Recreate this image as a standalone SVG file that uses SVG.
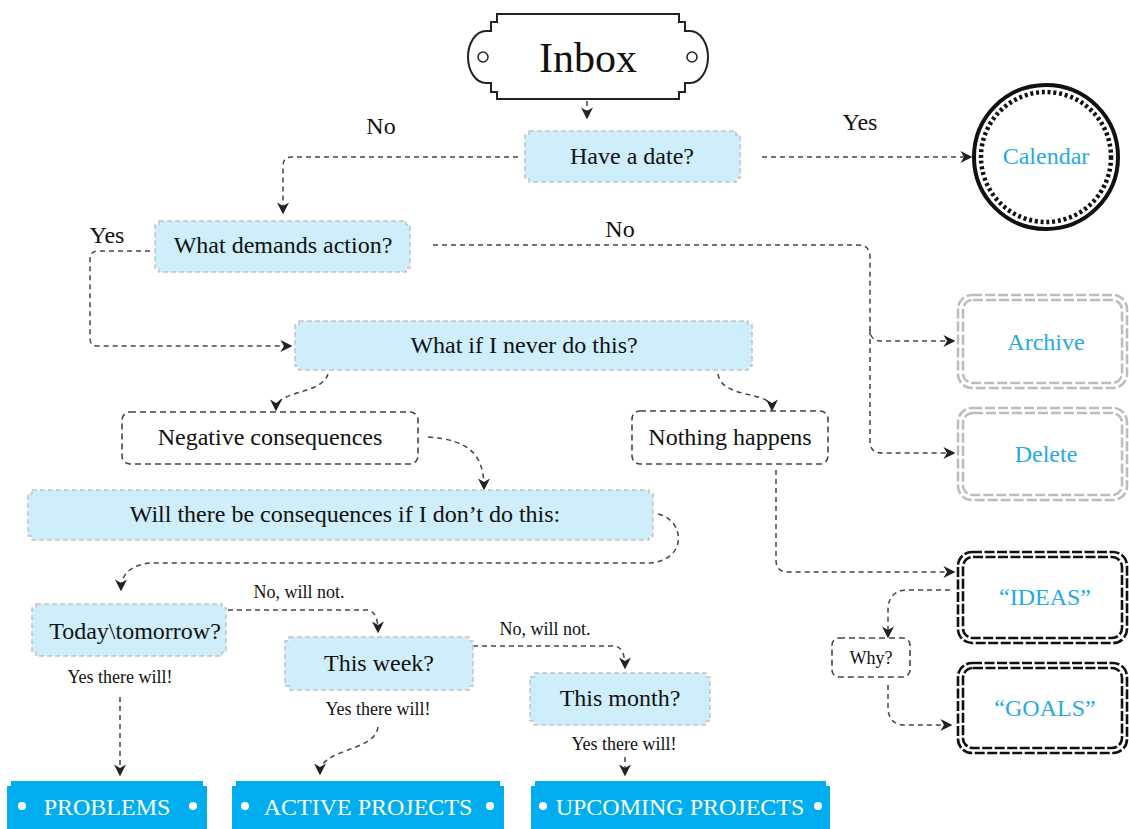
<svg xmlns="http://www.w3.org/2000/svg" width="1129" height="829" viewBox="0 0 1129 829">
<defs>
<marker id="arr" markerWidth="12" markerHeight="12" viewBox="0 0 10 10" refX="8" refY="5" orient="auto" markerUnits="userSpaceOnUse">
<path d="M0,0 L10,5 L0,10 L3,5 Z" fill="#222"/>
</marker>
<style>
text{font-family:"Liberation Serif","Times New Roman",serif;fill:#111;text-anchor:middle}
.q{fill:#cdeefa;stroke:#c4c4c4;stroke-width:1.5;stroke-dasharray:5 3}
.d{fill:#fff;stroke:#444;stroke-width:1.6;stroke-dasharray:6 4}
.c{fill:none;stroke:#444;stroke-width:1.5;stroke-dasharray:5 4;marker-end:url(#arr)}
.t22{font-size:24px}
.t16{font-size:18px}
.blue{fill:#26a9e6;font-size:24px}
.gray{fill:none;stroke:#bcbcbc;stroke-width:2.5;stroke-dasharray:10 3}
.blk{fill:none;stroke:#111;stroke-width:2.6;stroke-dasharray:10 2.5}
.ban{fill:#00aeef}
.bt{fill:#fff;font-size:24px}
.dot{fill:#fff}
</style>
</defs>
<rect width="1129" height="829" fill="#fff"/>

<g id="connectors">
<path class="c" d="M587,101 V117"/>
<path class="c" d="M518,157 H292 Q283,157 283,166 V212"/>
<path class="c" d="M762,157 H970"/>
<path class="c" d="M150,251 H98 Q90,251 90,259 V338 Q90,346 98,346 H290"/>
<path class="c" d="M433,245 H858 Q870,245 870,257 V330 Q870,341 882,341 H953"/>
<path class="c" d="M870,330 V441 Q870,453 882,453 H953"/>
<path class="c" d="M328,374 C322,395 276,390 276,409"/>
<path class="c" d="M718,374 C722,400 772,390 772,409"/>
<path class="c" d="M428,437 C470,440 484,455 484,488"/>
<path class="c" d="M658,514 C685,520 688,560 650,563 H150 C130,565 121,575 121,589"/>
<path class="c" d="M228,610 H368 Q378,612 378,631"/>
<path class="c" d="M473,646 H615 Q625,648 625,667"/>
<path class="c" d="M120,697 V774"/>
<path class="c" d="M378,727 C375,752 320,748 320,773"/>
<path class="c" d="M625,757 V774"/>
<path class="c" d="M776,470 V560 Q776,572 788,572 H953"/>
<path class="c" d="M950,590 H905 Q888,592 888,610 V636"/>
<path class="c" d="M888,685 V710 Q890,725 905,725 H950"/>
</g>

<g id="inbox">
<path d="M497,14 H679 V22 H685 V31 H690 A18 26 0 0 1 690 83 H685 V92 H679 V99 H497 V92 H491 V83 H486 A18 26 0 0 1 486 31 H491 V22 H497 Z" fill="#fff" stroke="#222" stroke-width="2"/>
<circle cx="483" cy="57" r="5" fill="#fff" stroke="#222" stroke-width="1.5"/>
<circle cx="692" cy="57" r="5" fill="#fff" stroke="#222" stroke-width="1.5"/>
<text x="588" y="72" font-size="42">Inbox</text>
</g>

<g id="have-date">
<path class="q" d="M529,131 H736 V135 H740 V178 H736 V182 H529 V178 H525 V135 H529 Z"/>
<text class="t22" x="632" y="164">Have a date?</text>
</g>
<text class="t22" x="381" y="134">No</text>
<text class="t22" x="860" y="130">Yes</text>

<g id="calendar">
<circle cx="1046" cy="157" r="72" fill="#fff" stroke="#111" stroke-width="4"/>
<circle cx="1046" cy="157" r="65" fill="none" stroke="#111" stroke-width="4.5" stroke-dasharray="3 2.8"/>
<text class="blue" x="1046" y="164">Calendar</text>
</g>

<g id="demands">
<path class="q" d="M159,221 H406 V225 H410 V268 H406 V272 H159 V268 H155 V225 H159 Z"/>
<text class="t22" x="283" y="253">What demands action?</text>
</g>
<text class="t22" x="107" y="243">Yes</text>
<text class="t22" x="620" y="237">No</text>

<g id="archive">
<rect class="gray" x="958" y="295" width="169" height="93" rx="14"/>
<rect class="gray" x="963" y="300" width="159" height="83" rx="10"/>
<text class="blue" x="1046" y="350">Archive</text>
</g>
<g id="delete">
<rect class="gray" x="958" y="408" width="169" height="92" rx="14"/>
<rect class="gray" x="963" y="413" width="159" height="82" rx="10"/>
<text class="blue" x="1046" y="462">Delete</text>
</g>

<g id="never">
<path class="q" d="M299,321 H748 V325 H752 V366 H748 V370 H299 V366 H295 V325 H299 Z"/>
<text class="t22" x="524" y="353">What if I never do this?</text>
</g>

<g id="negative">
<rect class="d" x="122" y="412" width="296" height="52" rx="8"/>
<text class="t22" x="270" y="445">Negative consequences</text>
</g>
<g id="nothing">
<rect class="d" x="632" y="411" width="196" height="53" rx="8"/>
<text class="t22" x="730" y="445">Nothing happens</text>
</g>

<g id="will">
<path class="q" d="M32,490 H649 V494 H653 V536 H649 V540 H32 V536 H28 V494 H32 Z"/>
<text class="t22" x="345" y="522">Will there be consequences if I don’t do this:</text>
</g>

<g id="today">
<path class="q" d="M36,604 H222 V608 H226 V652 H222 V656 H36 V652 H32 V608 H36 Z"/>
<text class="t22" x="135" y="639">Today\tomorrow?</text>
</g>
<text class="t16" x="299" y="598">No, will not.</text>
<text class="t16" x="120" y="683">Yes there will!</text>

<g id="week">
<path class="q" d="M289,637 H469 V641 H473 V686 H469 V690 H289 V686 H285 V641 H289 Z"/>
<text class="t22" x="379" y="671">This week?</text>
</g>
<text class="t16" x="545" y="635">No, will not.</text>
<text class="t16" x="378" y="715">Yes there will!</text>

<g id="month">
<path class="q" d="M534,673 H706 V677 H710 V721 H706 V725 H534 V721 H530 V677 H534 Z"/>
<text class="t22" x="620" y="706">This month?</text>
</g>
<text class="t16" x="624" y="750">Yes there will!</text>

<g id="ideas">
<rect class="blk" x="958" y="552" width="169" height="91" rx="14"/>
<rect class="blk" x="963" y="557" width="159" height="81" rx="10"/>
<text class="blue" x="1045" y="605">“IDEAS”</text>
</g>
<g id="why">
<rect class="d" x="832" y="638" width="78" height="39" rx="7"/>
<text class="t16" x="871" y="664">Why?</text>
</g>
<g id="goals">
<rect class="blk" x="958" y="663" width="169" height="90" rx="14"/>
<rect class="blk" x="963" y="668" width="159" height="80" rx="10"/>
<text class="blue" x="1045" y="716">“GOALS”</text>
</g>

<g id="problems">
<path class="ban" d="M7,786 H11 V781 H203 V786 H207 V829 H7 Z"/>
<circle class="dot" cx="22" cy="806" r="4"/>
<circle class="dot" cx="193" cy="806" r="4"/>
<text class="bt" x="107" y="815">PROBLEMS</text>
</g>
<g id="active">
<path class="ban" d="M232,786 H236 V781 H500 V786 H504 V829 H232 Z"/>
<circle class="dot" cx="245" cy="806" r="4"/>
<circle class="dot" cx="490" cy="806" r="4"/>
<text class="bt" x="368" y="815">ACTIVE PROJECTS</text>
</g>
<g id="upcoming">
<path class="ban" d="M531,786 H535 V781 H826 V786 H830 V829 H531 Z"/>
<circle class="dot" cx="543" cy="806" r="4"/>
<circle class="dot" cx="818" cy="806" r="4"/>
<text class="bt" x="680" y="815">UPCOMING PROJECTS</text>
</g>
</svg>
